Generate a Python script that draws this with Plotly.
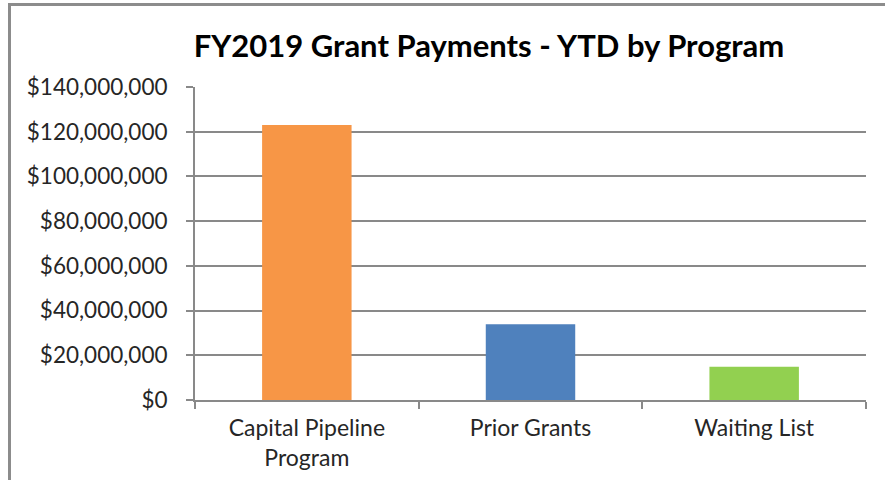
import plotly.graph_objects as go

categories = ["Capital Pipeline<br>Program", "Prior Grants", "Waiting List"]
values = [123000000, 33900000, 14900000]
colors = ["#F79646", "#4F81BD", "#92D050"]
title_text = "FY2019 Grant Payments - YTD by Program"

W, H = 885, 480
L, R, T, B = 195, 19, 87, 80
pw, ph = W - L - R, H - T - B

def px_x(x):
    return (x - L) / pw

def px_y(y):
    return (H - B - y) / ph

grid = "#898989"
font_family = "Lato, 'Open Sans', sans-serif"

fig = go.Figure(go.Bar(x=categories, y=values, marker_color=colors, marker_line_width=0, width=0.4))

fig.update_layout(
    width=W, height=H,
    margin=dict(l=L, r=R, t=T, b=B),
    paper_bgcolor="white", plot_bgcolor="white",
    showlegend=False,
    font=dict(family=font_family, size=22, color="#262626"),
    title=dict(text="<b>" + title_text + "</b>", x=px_x(489), xref="paper", xanchor="center",
               y=1 - 46 / H, yanchor="middle", font=dict(size=31, color="#000000", family=font_family)),
    shapes=[dict(type="rect", xref="paper", yref="paper",
                 x0=px_x(9.5), x1=px_x(900), y0=px_y(495), y1=px_y(4.5),
                 line=dict(color="#8c8c8c", width=3), fillcolor="rgba(0,0,0,0)", layer="below")],
)

fig.update_yaxes(range=[0, 140000000], dtick=20000000, tickprefix="$", tickformat=",",
                 showgrid=True, gridcolor=grid, gridwidth=2,
                 showline=True, linecolor=grid, linewidth=2,
                 ticks="outside", ticklen=7, tickcolor=grid, tickwidth=2,
                 zeroline=False, fixedrange=True, ticklabelstandoff=14, automargin=False,
                 tickfont=dict(size=22.5, color="#262626"))
fig.update_xaxes(showline=True, linecolor=grid, linewidth=2,
                 ticks="outside", tickson="boundaries", ticklen=7, tickcolor=grid, tickwidth=2,
                 showgrid=False, fixedrange=True, ticklabelstandoff=6, automargin=False,
                 tickfont=dict(size=23, color="#262626"))

fig.write_html("out.html")
